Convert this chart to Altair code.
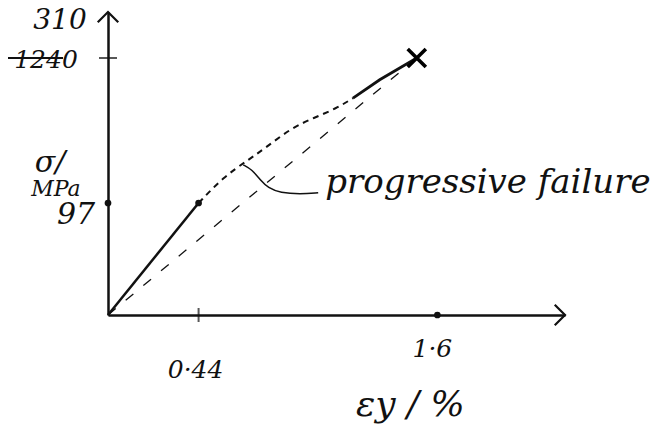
import altair as alt
import pandas as pd

# Stress-strain sketch: sigma (MPa) against strain (%)
curve_x = [0, 0.44, 0.56, 0.68, 0.77, 0.89, 1.00, 1.11, 1.19, 1.32, 1.50]
curve_y = [0, 97, 135, 160, 179, 207, 222, 236, 251, 278, 310]

# straight line from the origin to the failure point
secant_x = [0, 1.50]
secant_y = [0, 310]

# leader line pointing at the non-linear part
leader_x = [0.657, 0.700, 0.739, 0.778, 0.837, 0.934, 1.021]
leader_y = [153, 146, 131, 119, 112, 110, 112]

x_ticks = [0.44, 1.6]
y_ticks = [97, 310]
x_tick_text = ["0·44", "1·6"]
y_tick_text = ["97", "1240"]
y_corrected = "310"

X_MAX = 2.22
Y_MAX = 378
INK = "#111111"
FONT = "DejaVu Serif"

xs = alt.Scale(domain=[0, X_MAX], nice=False, zero=True)
ys = alt.Scale(domain=[0, 97, 310, Y_MAX], range=[303, 191, 46, 0], nice=False)
ax = dict(labels=False, ticks=False, title=None, grid=False,
          domainColor=INK, domainWidth=2.5)


def X(field="x"):
    return alt.X(f"{field}:Q", scale=xs, axis=alt.Axis(**ax))


def Y(field="y"):
    return alt.Y(f"{field}:Q", scale=ys, axis=alt.Axis(**ax))


curve = pd.DataFrame({"x": curve_x, "y": curve_y})
seg_elastic = curve.iloc[0:2]
seg_progressive = curve.iloc[1:9]
seg_final = curve.iloc[8:]

line_elastic = alt.Chart(seg_elastic).mark_line(color=INK, strokeWidth=2.5).encode(x=X(), y=Y())
line_prog = alt.Chart(seg_progressive).mark_line(
    color=INK, strokeWidth=2, strokeDash=[6, 5], interpolate="basis"
).encode(x=X(), y=Y())
line_final = alt.Chart(seg_final).mark_line(color=INK, strokeWidth=2.8).encode(x=X(), y=Y())

secant = alt.Chart(pd.DataFrame({"x": secant_x, "y": secant_y})).mark_line(
    color=INK, strokeWidth=1.3, strokeDash=[10, 13]
).encode(x=X(), y=Y())

leader = alt.Chart(pd.DataFrame({"x": leader_x, "y": leader_y})).mark_line(
    color=INK, strokeWidth=1.5, interpolate="basis"
).encode(x=X(), y=Y())

base = alt.Chart(pd.DataFrame({"x": [0]}))

# failure cross
failure = alt.Chart(pd.DataFrame({"x": [curve_x[-1]], "y": [curve_y[-1]]})).mark_point(
    shape="M-1,-1L1,1M-1,1L1,-1", size=330, color="#000000", strokeWidth=3.6, filled=False,
    opacity=1
).encode(x=X(), y=Y())

# axis arrowheads
arrow_up = base.mark_point(shape="M-1,1L0,0L1,1", size=420, color=INK,
                           strokeWidth=2.2, filled=False, opacity=1).encode(
    x=alt.datum(0, scale=xs), y=alt.datum(Y_MAX, scale=ys))
arrow_right = base.mark_point(shape="M-1,-1L0,0L-1,1", size=420, color=INK,
                              strokeWidth=2.2, filled=False, opacity=1).encode(
    x=alt.datum(X_MAX), y=alt.datum(0))

# tick marks and dots on the axes
tick_top = base.mark_tick(orient="horizontal", size=18, thickness=2, color=INK).encode(
    x=alt.datum(0), y=alt.datum(y_ticks[1]))
tick_044 = base.mark_tick(orient="vertical", size=14, thickness=2, color=INK).encode(
    x=alt.datum(x_ticks[0]), y=alt.datum(0))
dots = alt.Chart(pd.DataFrame({"x": [0, x_ticks[1], x_ticks[0]],
                               "y": [y_ticks[0], 0, y_ticks[0]]})).mark_circle(
    size=45, color=INK, opacity=1).encode(x=X(), y=Y())


def label(text, xv, yv, dx, dy, size=21, align="center"):
    return base.mark_text(text=text, dx=dx, dy=dy, fontSize=size, font=FONT,
                          fontStyle="italic", color=INK, align=align,
                          baseline="middle").encode(x=alt.datum(xv), y=alt.datum(yv))


lbl_97 = label(y_tick_text[0], 0, y_ticks[0], -32, 12, 30)
lbl_1240 = label(y_tick_text[1], 0, y_ticks[1], -62, 2, 25)
lbl_310 = label(y_corrected, 0, y_ticks[1], -48, -37, 28)
strike = base.mark_rule(color=INK, strokeWidth=2).encode(
    x=alt.value(-100), x2=alt.value(-45), y=alt.datum(y_ticks[1]))
lbl_044 = label(x_tick_text[0], x_ticks[0], 0, -3, 55, 25)
lbl_16 = label(x_tick_text[1], x_ticks[1], 0, -5, 34, 25)

sigma = label("σ/", 0, y_ticks[0], -58, -40, 30)
mpa = label("MPa", 0, y_ticks[0], -52, -14, 22)
eps = label("εy / %", x_ticks[1], 0, -27, 90, 36)
note = label("progressive failure", 1.055, 126, 0, 0, 34, align="left")

chart = alt.layer(
    secant, line_elastic, line_prog, line_final, leader, failure,
    arrow_up, arrow_right, tick_top, tick_044, dots,
    lbl_97, lbl_1240, lbl_310, strike, lbl_044, lbl_16,
    sigma, mpa, eps, note,
).properties(
    width=457, height=303,
    autosize=alt.AutoSizeParams(type="none"),
    padding={"left": 108, "top": 12, "right": 89, "bottom": 120},
    background="white",
).configure_view(stroke=None)

chart.save("out.html", embed_options={"renderer": "svg", "actions": False})
